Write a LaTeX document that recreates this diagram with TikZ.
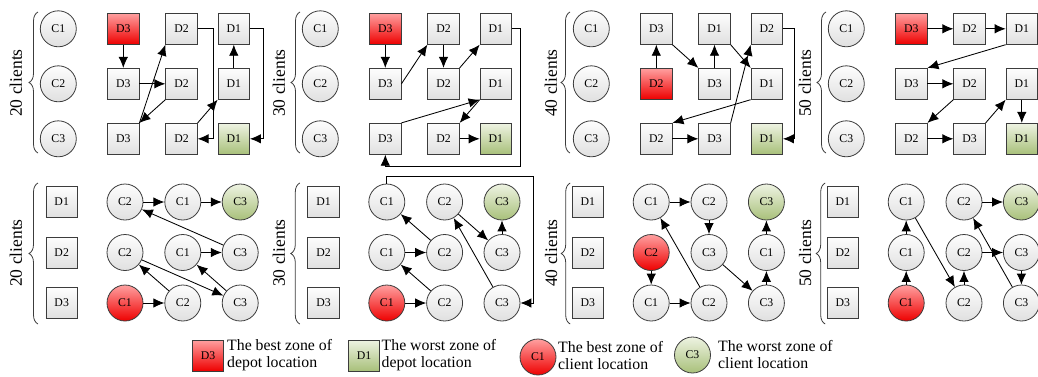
\documentclass[tikz,border=0pt]{standalone}
\usepackage{fontspec}
\setmainfont{Liberation Serif}
\usetikzlibrary{arrows.meta,calc,decorations.pathreplacing}
\definecolor{gtop}{RGB}{253,253,253}
\definecolor{gbot}{RGB}{224,224,224}
\definecolor{rtop}{RGB}{255,160,160}
\definecolor{rbot}{RGB}{238,0,0}
\definecolor{vtop}{RGB}{238,243,226}
\definecolor{vbot}{RGB}{168,192,122}
\definecolor{bordc}{RGB}{60,60,60}
\tikzset{
 base/.style={draw=bordc, line width=0.8pt, font=\fontsize{11.8}{12}\selectfont, inner sep=0pt},
 bx/.style={base, rectangle, minimum width=31.5pt, minimum height=31pt, top color=gtop, bottom color=gbot},
 bxr/.style={bx, top color=rtop, bottom color=rbot},
 bxg/.style={bx, top color=vtop, bottom color=vbot},
 cr/.style={base, circle, minimum size=36pt, top color=gtop, bottom color=gbot},
 crr/.style={cr, top color=rtop, bottom color=rbot},
 crg/.style={cr, top color=vtop, bottom color=vbot},
 arr/.style={-{Latex[length=11pt,width=9.5pt]}, line width=0.85pt, draw=black},
 lbl/.style={rotate=90, font=\fontsize{17.5}{17.5}\selectfont, inner sep=0pt},
 br/.style={decorate, decoration={brace, amplitude=9pt}, line width=0.8pt, draw=bordc},
 lt/.style={anchor=west, align=left, inner sep=0pt, font=\fontsize{15.8}{17}\selectfont},
}
\begin{document}
\begin{tikzpicture}[x=1pt,y=-1pt]
\useasboundingbox (0,0) rectangle (1038,376);

% ===================== TOP PANELS =====================
% ---- panel 1
\begin{scope}[xshift=0pt]
\draw[br] (38,153) -- (38,12);
\node[lbl] (T1-lab) at (16,83) {20 clients};
\node[cr] (T1-01) at (58.3,28.8) {C1};
\node[cr] (T1-02) at (58.3,83.8) {C2};
\node[cr] (T1-03) at (58.3,138.8) {C3};
\node[bxr] (T1-11) at (123.3,28.8) {D3};
\node[bx]  (T1-21) at (181.5,28.8) {D2};
\node[bx]  (T1-31) at (233.8,28.8) {D1};
\node[bx]  (T1-12) at (123.3,83.8) {D3};
\node[bx]  (T1-22) at (181.5,83.8) {D2};
\node[bx]  (T1-32) at (233.8,83.8) {D1};
\node[bx]  (T1-13) at (123.3,138.8) {D3};
\node[bx]  (T1-23) at (181.5,138.8) {D2};
\node[bxg] (T1-33) at (233.8,138.8) {D1};
\end{scope}
\draw[arr] (T1-11) -- (T1-12);
\draw[arr] (T1-12) -- (T1-22);
\draw[arr] (T1-22.south west) -- (T1-13.north east);
\draw[arr] (T1-13.north east) -- (T1-21.south west);
\draw[arr] (T1-21.east) -- ++(15.5,0) |- (T1-23.east);
\draw[arr] (T1-23.north east) -- (T1-32.south west);
\draw[arr] (T1-32) -- (T1-31);
\draw[arr] (T1-31.east) -- ++(13.5,0) |- (T1-33.east);

% ---- panel 2
\begin{scope}[xshift=262pt]
\draw[br] (38,153) -- (38,12);
\node[lbl] (T2-lab) at (17,83) {30 clients};
\node[cr] (T2-01) at (58.3,28.8) {C1};
\node[cr] (T2-02) at (58.3,83.8) {C2};
\node[cr] (T2-03) at (58.3,138.8) {C3};
\node[bxr] (T2-11) at (123.3,28.8) {D3};
\node[bx]  (T2-21) at (181.5,28.8) {D2};
\node[bx]  (T2-31) at (233.8,28.8) {D1};
\node[bx]  (T2-12) at (123.3,83.8) {D3};
\node[bx]  (T2-22) at (181.5,83.8) {D2};
\node[bx]  (T2-32) at (233.8,83.8) {D1};
\node[bx]  (T2-13) at (123.3,138.8) {D3};
\node[bx]  (T2-23) at (181.5,138.8) {D2};
\node[bxg] (T2-33) at (233.8,138.8) {D1};
\end{scope}
\draw[arr] (T2-11) -- (T2-12);
\draw[arr] (T2-12.east) -- (T2-21.south west);
\draw[arr] (T2-21) -- (T2-22);
\draw[arr] (T2-22.north east) -- (T2-31.south west);
\draw[arr] (T2-31.east) -- ++(8.5,0) |- ($(T2-13.south)+(0,12)$) -- (T2-13.south);
\draw[arr] (T2-13.north east) -- (T2-32.south west);
\draw[arr] (T2-32.south west) -- (T2-23.north east);
\draw[arr] (T2-23) -- (T2-33);

% ---- panel 3
\begin{scope}[xshift=533pt]
\draw[br] (37,153) -- (37,12);
\node[lbl] (T3-lab) at (18,83) {40 clients};
\node[cr] (T3-01) at (58.3,28.8) {C1};
\node[cr] (T3-02) at (58.3,83.8) {C2};
\node[cr] (T3-03) at (58.3,138.8) {C3};
\node[bx]  (T3-11) at (123.3,28.8) {D3};
\node[bx]  (T3-21) at (181.5,28.8) {D1};
\node[bx]  (T3-31) at (233.8,28.8) {D2};
\node[bxr] (T3-12) at (123.3,83.8) {D2};
\node[bx]  (T3-22) at (181.5,83.8) {D3};
\node[bx]  (T3-32) at (233.8,83.8) {D1};
\node[bx]  (T3-13) at (123.3,138.8) {D2};
\node[bx]  (T3-23) at (181.5,138.8) {D3};
\node[bxg] (T3-33) at (233.8,138.8) {D1};
\end{scope}
\draw[arr] (T3-12) -- (T3-11);
\draw[arr] (T3-11.south east) -- (T3-22.north west);
\draw[arr] (T3-22) -- (T3-21);
\draw[arr] (T3-21.south east) -- (T3-32.north west);
\draw[arr] (T3-32.south west) -- (T3-13.north east);
\draw[arr] (T3-13) -- (T3-23);
\draw[arr] (T3-23.north east) -- (T3-31.south west);
\draw[arr] (T3-31.east) -- ++(11.5,0) |- (T3-33.east);

% ---- panel 4
\begin{scope}[xshift=788pt]
\draw[br] (38,153) -- (38,12);
\node[lbl] (T4-lab) at (17,83) {50 clients};
\node[cr] (T4-01) at (58.3,28.8) {C1};
\node[cr] (T4-02) at (58.3,83.8) {C2};
\node[cr] (T4-03) at (58.3,138.8) {C3};
\node[bxr] (T4-11) at (123.3,28.8) {D3};
\node[bx]  (T4-21) at (181.5,28.8) {D2};
\node[bx]  (T4-31) at (233.8,28.8) {D1};
\node[bx]  (T4-12) at (123.3,83.8) {D3};
\node[bx]  (T4-22) at (181.5,83.8) {D2};
\node[bx]  (T4-32) at (233.8,83.8) {D1};
\node[bx]  (T4-13) at (123.3,138.8) {D2};
\node[bx]  (T4-23) at (181.5,138.8) {D3};
\node[bxg] (T4-33) at (233.8,138.8) {D1};
\end{scope}
\draw[arr] (T4-11) -- (T4-21);
\draw[arr] (T4-21) -- (T4-31);
\draw[arr] (T4-31.south west) -- (T4-12.north east);
\draw[arr] (T4-12) -- (T4-22);
\draw[arr] (T4-22.south west) -- (T4-13.north east);
\draw[arr] (T4-13) -- (T4-23);
\draw[arr] (T4-23.north east) -- (T4-32.south west);
\draw[arr] (T4-32) -- (T4-33);

% ===================== BOTTOM PANELS =====================
% ---- panel 1
\begin{scope}[xshift=0pt]
\draw[br] (38,324) -- (38,183);
\node[lbl] (B1-lab) at (16,253) {20 clients};
\node[bx] (B1-01) at (61.7,202) {D1};
\node[bx] (B1-02) at (61.7,252.5) {D2};
\node[bx] (B1-03) at (61.7,303) {D3};
\node[cr]  (B1-11) at (125,202) {C2};
\node[cr]  (B1-21) at (182.8,202) {C1};
\node[crg] (B1-31) at (240.2,202) {C3};
\node[cr]  (B1-12) at (125,252.5) {C2};
\node[cr]  (B1-22) at (182.8,252.5) {C1};
\node[cr]  (B1-32) at (240.2,252.5) {C3};
\node[crr] (B1-13) at (125,303) {C1};
\node[cr]  (B1-23) at (182.8,303) {C2};
\node[cr]  (B1-33) at (240.2,303) {C3};
\end{scope}
\draw[arr] (B1-11) -- (B1-21);
\draw[arr] (B1-21) -- (B1-31);
\draw[arr] (B1-32) -- (B1-11);
\draw[arr] (B1-22) -- (B1-32);
\draw[arr] (B1-12) -- (B1-33);
\draw[arr] (B1-23) -- (B1-12);
\draw[arr] (B1-33) -- (B1-22);
\draw[arr] (B1-13) -- (B1-23);

% ---- panel 2
\begin{scope}[xshift=261.8pt]
\draw[br] (38,324) -- (38,183);
\node[lbl] (B2-lab) at (17,253) {30 clients};
\node[bx] (B2-01) at (61.7,202) {D1};
\node[bx] (B2-02) at (61.7,252.5) {D2};
\node[bx] (B2-03) at (61.7,303) {D3};
\node[cr]  (B2-11) at (125,202) {C1};
\node[cr]  (B2-21) at (182.8,202) {C2};
\node[crg] (B2-31) at (240.2,202) {C3};
\node[cr]  (B2-12) at (125,252.5) {C1};
\node[cr]  (B2-22) at (182.8,252.5) {C2};
\node[cr]  (B2-32) at (240.2,252.5) {C3};
\node[crr] (B2-13) at (125,303) {C1};
\node[cr]  (B2-23) at (182.8,303) {C2};
\node[cr]  (B2-33) at (240.2,303) {C3};
\end{scope}
\draw[arr] (B2-11.north) -- ++(0,-7) -| ($(B2-33.east)+(13,0)$) -- (B2-33.east);
\draw[arr] (B2-22) -- (B2-11);
\draw[arr] (B2-12) -- (B2-22);
\draw[arr] (B2-23) -- (B2-12);
\draw[arr] (B2-13) -- (B2-23);
\draw[arr] (B2-21) -- (B2-32);
\draw[arr] (B2-32) -- (B2-31);
\draw[arr] (B2-33) -- (B2-21);

% ---- panel 3
\begin{scope}[xshift=526.2pt]
\draw[br] (44,324) -- (44,183);
\node[lbl] (B3-lab) at (25,253) {40 clients};
\node[bx] (B3-01) at (61.7,202) {D1};
\node[bx] (B3-02) at (61.7,252.5) {D2};
\node[bx] (B3-03) at (61.7,303) {D3};
\node[cr]  (B3-11) at (125,202) {C1};
\node[cr]  (B3-21) at (182.8,202) {C2};
\node[crg] (B3-31) at (240.2,202) {C3};
\node[crr] (B3-12) at (125,252.5) {C2};
\node[cr]  (B3-22) at (182.8,252.5) {C3};
\node[cr]  (B3-32) at (240.2,252.5) {C1};
\node[cr]  (B3-13) at (125,303) {C1};
\node[cr]  (B3-23) at (182.8,303) {C2};
\node[cr]  (B3-33) at (240.2,303) {C3};
\end{scope}
\draw[arr] (B3-11) -- (B3-21);
\draw[arr] (B3-21) -- (B3-22);
\draw[arr] (B3-22) -- (B3-33);
\draw[arr] (B3-33) -- (B3-32);
\draw[arr] (B3-32) -- (B3-31);
\draw[arr] (B3-12) -- (B3-13);
\draw[arr] (B3-13) -- (B3-23);
\draw[arr] (B3-23) -- (B3-11);

% ---- panel 4
\begin{scope}[xshift=781.2pt]
\draw[br] (44,324) -- (44,183);
\node[lbl] (B4-lab) at (24,253) {50 clients};
\node[bx] (B4-01) at (61.7,202) {D1};
\node[bx] (B4-02) at (61.7,252.5) {D2};
\node[bx] (B4-03) at (61.7,303) {D3};
\node[cr]  (B4-11) at (125,202) {C1};
\node[cr]  (B4-21) at (182.8,202) {C2};
\node[crg] (B4-31) at (240.2,202) {C3};
\node[cr]  (B4-12) at (125,252.5) {C1};
\node[cr]  (B4-22) at (182.8,252.5) {C2};
\node[cr]  (B4-32) at (240.2,252.5) {C3};
\node[crr] (B4-13) at (125,303) {C1};
\node[cr]  (B4-23) at (182.8,303) {C2};
\node[cr]  (B4-33) at (240.2,303) {C3};
\end{scope}
\draw[arr] (B4-13) -- (B4-12);
\draw[arr] (B4-12) -- (B4-11);
\draw[arr] (B4-11) -- (B4-23);
\draw[arr] (B4-23) -- (B4-22);
\draw[arr] (B4-22) -- (B4-32);
\draw[arr] (B4-32) -- (B4-33);
\draw[arr] (B4-33) -- (B4-21);
\draw[arr] (B4-21) -- (B4-31);

% ===================== LEGEND =====================
\node[bxr] (L1) at (208,355.5) {D3};
\node[lt] (L1t) at (227,355.5) {The best zone of\\depot location};
\node[bxg] (L2) at (364,355.5) {D1};
\node[lt] (L2t) at (381.5,355.5) {The worst zone of\\depot location};
\node[crr] (L3) at (538,357) {C1};
\node[lt] (L3t) at (558,356) {The best zone of\\client location};
\node[crg] (L4) at (692.5,355) {C3};
\node[lt] (L4t) at (718,355) {The worst zone of\\client location};
\end{tikzpicture}
\end{document}
